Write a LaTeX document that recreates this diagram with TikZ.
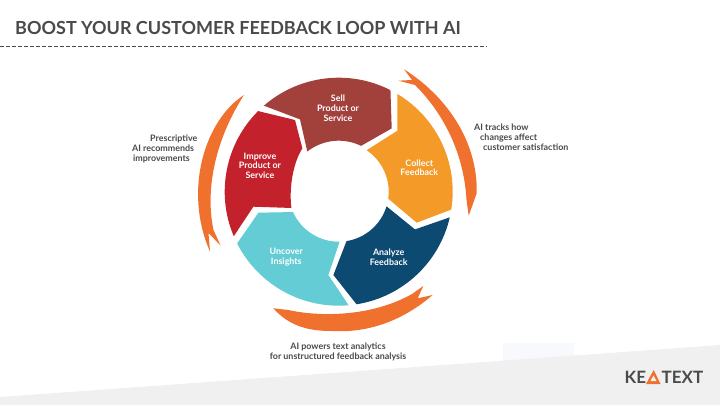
\documentclass[tikz,border=0pt]{standalone}
\usepackage{fontspec}
\setmainfont{Lato}
\definecolor{keagray}{HTML}{4a4a4a}
\definecolor{keaorange}{HTML}{f0702e}
\definecolor{keaband}{HTML}{f0f0f0}
\definecolor{keapatch}{HTML}{f8f9fc}
\definecolor{sellred}{HTML}{a2403c}
\definecolor{collectamber}{HTML}{f39a28}
\definecolor{analyzeblue}{HTML}{0d4a72}
\definecolor{uncovercyan}{HTML}{64ccd4}
\definecolor{improvered}{HTML}{c3212c}
\tikzset{
  steplabel/.style={text=white,font=\fontsize{8.9}{9.8}\selectfont\bfseries,align=center,inner sep=0pt},
  sidelabel/.style={text=keagray,font=\fontsize{8.9}{10}\selectfont\bfseries,inner sep=0pt},
  logotext/.style={text=keagray,font=\fontsize{17}{18}\selectfont\bfseries,inner sep=0pt}
}
\begin{document}
\begin{tikzpicture}[x=1pt,y=1pt]
  \useasboundingbox (0,0) rectangle (720,405);
  \fill[keapatch] (503,40) rectangle (574,62);
  \fill[keaband] (0,8) -- (720,60) -- (720,0) -- (0,0) -- cycle;
  \node[anchor=west,text=keagray,inner sep=0pt,font=\fontsize{18}{20}\selectfont\bfseries] (title) at (15,377.3) {BOOST YOUR CUSTOMER FEEDBACK LOOP WITH AI};
  \draw[keagray,line width=0.6pt,dash pattern=on 3.5pt off 2.5pt] (0,358.5) -- (487,358.5);
  \begin{scope}[shift={(338.7,213.3)}]
    \fill[sellred] (131:114) arc[start angle=131,end angle=63,radius=114] -- (53,63.3) -- (64:51) arc[start angle=64,end angle=128,radius=51] -- (-38.7,72.3) -- cycle;
    \fill[collectamber] (59:114) arc[start angle=59,end angle=-9,radius=114] -- (78,-31) -- (-8:50) arc[start angle=-8,end angle=56,radius=50] -- (58.7,61) -- cycle;
    \fill[analyzeblue] (-13:114) arc[start angle=-13,end angle=-81,radius=114] -- (-5.3,-83.3) -- (-81:50) arc[start angle=-81,end angle=-17,radius=50] -- (76.3,-37.7) -- cycle;
    \fill[uncovercyan] (-85:114) arc[start angle=-85,end angle=-153,radius=114] -- (-80.3,-21) -- (-156:50) arc[start angle=-156,end angle=-89,radius=50] -- (-10.3,-83.3) -- cycle;
    \fill[improvered] (203:114) arc[start angle=203,end angle=135,radius=114] -- (-43.7,71.7) -- (-36.3,43.3) .. controls (-45,30) and (-50,5) .. (199:50) -- (-85.3,-15) -- cycle;
  \end{scope}
  \fill[keaorange] (404,335.7) .. controls (445,310) and (478,265) .. (476.7,211.7) -- (468.7,189.3) -- (466.5,205) .. controls (464,250) and (445,290) .. (415,320) -- (398.3,324.3) -- (412,325) -- cycle;
  \fill[keaorange] (244,310) .. controls (205,285) and (183,215) .. (210,153.3) -- (208.5,172) -- (220.7,159.3) -- (213.5,175) .. controls (205,215) and (215,265) .. cycle;
  \fill[keaorange] (273.3,96.7) -- (288.3,95) .. controls (325,87) and (375,90) .. (412,111) -- (423.3,119) -- (417.7,106.7) -- (432.7,110) .. controls (400,82) and (365,72) .. (331.7,74) .. controls (310,74) and (290,78) .. cycle;
  \node[steplabel] (sell) at (338,297) {Sell\\Product or\\Service};
  \node[steplabel] (improve) at (260,239.3) {Improve\\Product or\\Service};
  \node[steplabel] (collect) at (419.3,237.3) {Collect\\Feedback};
  \node[steplabel] (analyze) at (388.7,148) {Analyze\\Feedback};
  \node[steplabel] (uncover) at (286.3,148) {Uncover\\Insights};
  \node[sidelabel,anchor=west,align=left] (prescriptive) at (132,256) {\hspace*{18pt}Prescriptive\\AI recommends\\\hspace*{1pt}improvements};
  \node[sidelabel,anchor=west,align=left] (tracks) at (474,268) {AI tracks how\\\hspace*{6pt}changes affect\\\hspace*{9pt}customer satisfaction};
  \node[sidelabel,align=center] (powers) at (338,53.3) {AI powers text analytics\\for unstructured feedback analysis};
  \node[logotext,anchor=west] (logoke) at (624.5,27.5) {KE};
  \node[logotext,anchor=west] (logotext) at (661.5,27.5) {TEXT};
  \fill[keaorange] (646,21) -- (653.7,35) -- (660.5,21) -- cycle;
  \fill[keaband] (650.5,24) -- (653.5,29.5) -- (656.5,24) -- cycle;
\end{tikzpicture}
\end{document}
